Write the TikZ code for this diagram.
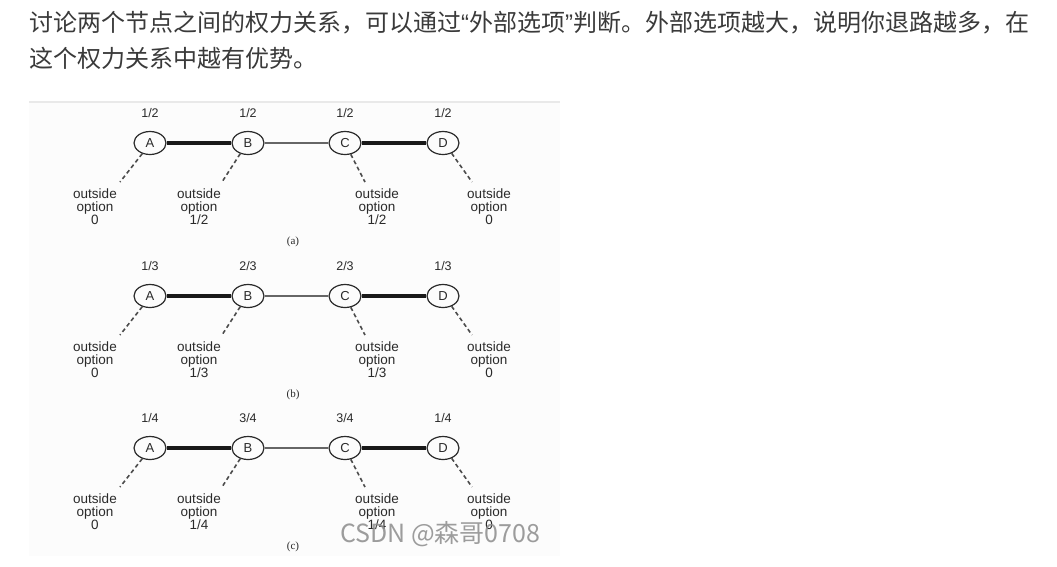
\documentclass[tikz,border=0pt]{standalone}
\usepackage{fontspec}
\usetikzlibrary{shapes.geometric,calc}
\setmainfont{Liberation Sans}
\newfontfamily\cjk{Noto Sans CJK SC}
\newfontfamily\capfont{Liberation Serif}
\definecolor{bodytext}{HTML}{3A3A3A}
\definecolor{ink}{HTML}{2A2A2A}
\definecolor{panelbg}{HTML}{FCFCFC}
\definecolor{panelline}{HTML}{E9E9E9}
\newcommand{\narrowlq}{{\rmfamily“}}
\newcommand{\narrowrq}{{\rmfamily”}}
\tikzset{
  nd/.style={ellipse, draw=ink, line width=1.2pt, minimum width=32pt, minimum height=23pt, inner sep=0pt, text=ink, font=\fontsize{13}{14}\selectfont},
  strong/.style={draw=black!90, line width=4pt},
  weak/.style={draw=black!60, line width=1.1pt},
  frac/.style={text=ink, font=\fontsize{12.5}{14}\selectfont, inner sep=0pt},
  opt/.style={text=ink, align=center, font=\fontsize{13.5}{13}\selectfont, inner sep=0pt},
  dsh/.style={draw=black!70, line width=1.6pt, dash pattern=on 4pt off 3pt},
  panelcap/.style={text=ink, font=\capfont\fontsize{11}{12}\selectfont, inner sep=0pt},
}
\newcommand{\powerpanel}[5]{%
  \node[nd] (#1A) at (150,#2) {A};
  \node[nd] (#1B) at (248,#2) {B};
  \node[nd] (#1C) at (345,#2) {C};
  \node[nd] (#1D) at (443,#2) {D};
  \draw[strong] (#1A) -- (#1B);
  \draw[weak] (#1B) -- (#1C);
  \draw[strong] (#1C) -- (#1D);
  \node[frac] (#1fA) at (150,#2-30) {#3};
  \node[frac] (#1fB) at (248,#2-30) {#4};
  \node[frac] (#1fC) at (345,#2-30) {#4};
  \node[frac] (#1fD) at (443,#2-30) {#3};
  \node[opt] (#1oA) at (95,#2+64) {outside\\option\\0};
  \node[opt] (#1oB) at (199,#2+64) {outside\\option\\#3};
  \node[opt] (#1oC) at (377,#2+64) {outside\\option\\#3};
  \node[opt] (#1oD) at (489,#2+64) {outside\\option\\0};
  \coordinate (#1eA) at (120,#2+39);
  \coordinate (#1eB) at (222,#2+39);
  \coordinate (#1eC) at (365,#2+39);
  \coordinate (#1eD) at (472,#2+39);
  \draw[dsh] (#1A.234) -- (#1eA);
  \draw[dsh] (#1B.234) -- (#1eB);
  \draw[dsh] (#1C.297) -- (#1eC);
  \draw[dsh] (#1D.310) -- (#1eD);
  \node[panelcap] (#1cap) at (293,#2+99) {(#5)};
}
\begin{document}
\begin{tikzpicture}[x=1pt,y=-1pt]
\useasboundingbox (0,0) rectangle (1057,566);
\fill[white] (0,0) rectangle (1057,566);
\fill[panelbg] (29,101) rectangle (560,556);
\draw[panelline, line width=1.5pt] (29,102) -- (560,102);
\node[anchor=base west, inner sep=0pt, text=bodytext] (line1) at (29,31)
  {\cjk\fontsize{24}{36}\selectfont 讨论两个节点之间的权力关系，可以通过\narrowlq 外部选项\narrowrq 判断。外部选项越大，说明你退路越多，在};
\node[anchor=base west, inner sep=0pt, text=bodytext] (line2) at (29,67)
  {\cjk\fontsize{24}{36}\selectfont 这个权力关系中越有优势。};
\powerpanel{a}{143}{1/2}{1/2}{a}
\powerpanel{b}{296}{1/3}{2/3}{b}
\powerpanel{c}{448}{1/4}{3/4}{c}
\node[anchor=base west, inner sep=0pt, text=black!45, opacity=0.85] (wm) at (340,542)
  {\cjk\fontsize{25}{30}\selectfont CSDN @森哥0708};
\end{tikzpicture}
\end{document}
